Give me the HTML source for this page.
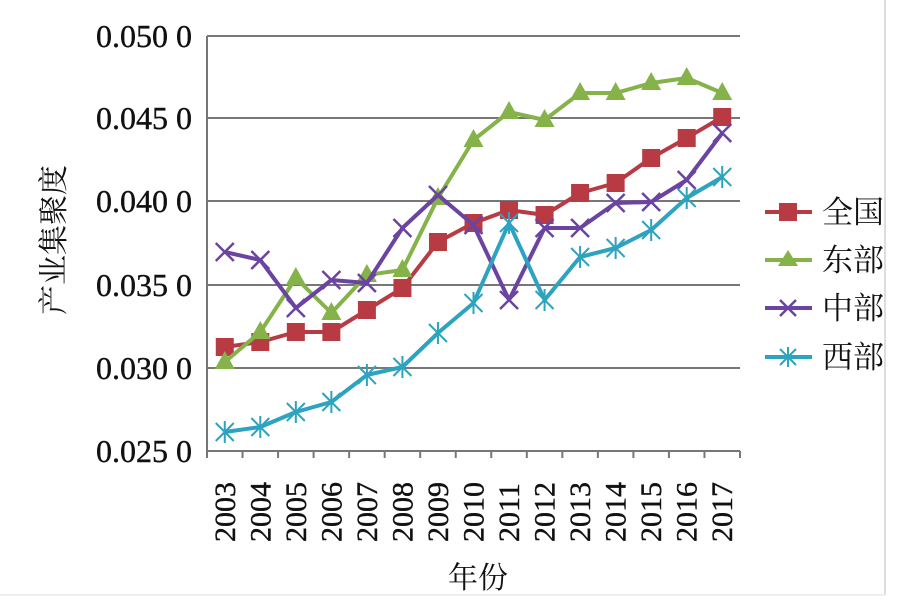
<!DOCTYPE html>
<html><head><meta charset="utf-8"><style>
body{margin:0;background:#fff;width:913px;height:610px;overflow:hidden}
</style></head><body>
<svg width="913" height="610" xmlns="http://www.w3.org/2000/svg" font-family="'Liberation Serif','Noto Serif CJK SC',serif">
<line x1="885" y1="0" x2="885" y2="595" stroke="#ddd" stroke-width="2"/>
<line x1="0" y1="595" x2="885" y2="595" stroke="#eee" stroke-width="2"/>
<g stroke="#777" stroke-width="2">
<line x1="207" y1="36" x2="740" y2="36"/><line x1="207" y1="118" x2="740" y2="118"/>
<line x1="207" y1="201" x2="740" y2="201"/><line x1="207" y1="285" x2="740" y2="285"/>
<line x1="207" y1="368" x2="740" y2="368"/><line x1="207" y1="451" x2="740" y2="451"/>
<line x1="207" y1="36" x2="207" y2="458"/>
</g>
<g stroke="#777" stroke-width="2" id="ticks"></g>
<g font-size="32" text-anchor="end" fill="#111" stroke="#111" stroke-width="0.4">
<text x="192" y="47">0.050 0</text><text x="192" y="129">0.045 0</text>
<text x="192" y="212">0.040 0</text><text x="192" y="296">0.035 0</text>
<text x="192" y="379">0.030 0</text><text x="192" y="462">0.025 0</text>
</g>
<text transform="translate(64,240) rotate(-90)" font-size="30" text-anchor="middle" fill="#111">产业集聚度</text>
<text x="478" y="588" font-size="30" text-anchor="middle" fill="#111">年份</text>
<g id="xl" font-size="30" fill="#111" stroke="#111" stroke-width="0.4"></g>
<g id="series"></g>
<g font-size="31" fill="#111">
<line x1="765" y1="212" x2="812" y2="212" stroke="#b83a43" stroke-width="4"/><rect x="779" y="203" width="18" height="18" fill="#b83a43"/>
<text x="822" y="223">全国</text>
<line x1="765" y1="260" x2="812" y2="260" stroke="#86b24a" stroke-width="4"/><polygon points="788,250 798,266 778,266" fill="#86b24a"/>
<text x="822" y="271">东部</text>
<line x1="765" y1="308" x2="812" y2="308" stroke="#6a44a0" stroke-width="4"/><path d="M780,300 L796,316 M796,300 L780,316" stroke="#6a44a0" stroke-width="2.5"/>
<text x="822" y="319">中部</text>
<line x1="765" y1="357" x2="812" y2="357" stroke="#2ea3bf" stroke-width="4"/><path d="M780,349 L796,365 M796,349 L780,365 M788,347 L788,367" stroke="#2ea3bf" stroke-width="2"/>
<text x="822" y="368">西部</text>
</g>
</svg>
<script>
var ns="http://www.w3.org/2000/svg";
function el(p,t,a,txt){var e=document.createElementNS(ns,t);for(var k in a)e.setAttribute(k,a[k]);if(txt)e.textContent=txt;p.appendChild(e);return e;}
var tk=document.getElementById('ticks'),xl=document.getElementById('xl'),sr=document.getElementById('series');
var w=533/15;
for(var i=0;i<=15;i++){el(tk,'line',{x1:207+i*w,y1:451,x2:207+i*w,y2:458});}
for(var i=0;i<15;i++){var x=207+w*(i+0.5);el(xl,'text',{transform:'translate('+(x+10)+',542) rotate(-90)'},String(2003+i));}
var D=[
['#b83a43','sq',[347,342,332,332,310,288,242,223,210,215,193,183,158,138,117]],
['#86b24a','tri',[362,332,278,313,275,270,198,140,112,120,93,93,83,78,93]],
['#6a44a0','x',[252,260,308,280,283,228,195,225,300,228,228,203,202,180,133]],
['#2ea3bf','st',[432,427,412,402,375,367,333,303,223,300,257,248,230,198,177]]];
D.forEach(function(s){var c=s[0],pts=s[2].map(function(y,i){return [207+w*(i+0.5),y];});
el(sr,'polyline',{points:pts.map(function(p){return p.join(',')}).join(' '),fill:'none',stroke:c,'stroke-width':4,'stroke-linejoin':'round'});
pts.forEach(function(p){var x=p[0],y=p[1];
if(s[1]=='sq')el(sr,'rect',{x:x-9,y:y-9,width:18,height:18,fill:c});
else if(s[1]=='tri')el(sr,'polygon',{points:(x)+','+(y-11)+' '+(x+10)+','+(y+7)+' '+(x-10)+','+(y+7),fill:c});
else if(s[1]=='x')el(sr,'path',{d:'M'+(x-9)+','+(y-9)+'L'+(x+9)+','+(y+9)+'M'+(x+9)+','+(y-9)+'L'+(x-9)+','+(y+9),stroke:c,'stroke-width':2.5});
else el(sr,'path',{d:'M'+(x-9)+','+(y-9)+'L'+(x+9)+','+(y+9)+'M'+(x+9)+','+(y-9)+'L'+(x-9)+','+(y+9)+'M'+x+','+(y-11)+'L'+x+','+(y+11),stroke:c,'stroke-width':2});
});});
</script>
</body></html>
